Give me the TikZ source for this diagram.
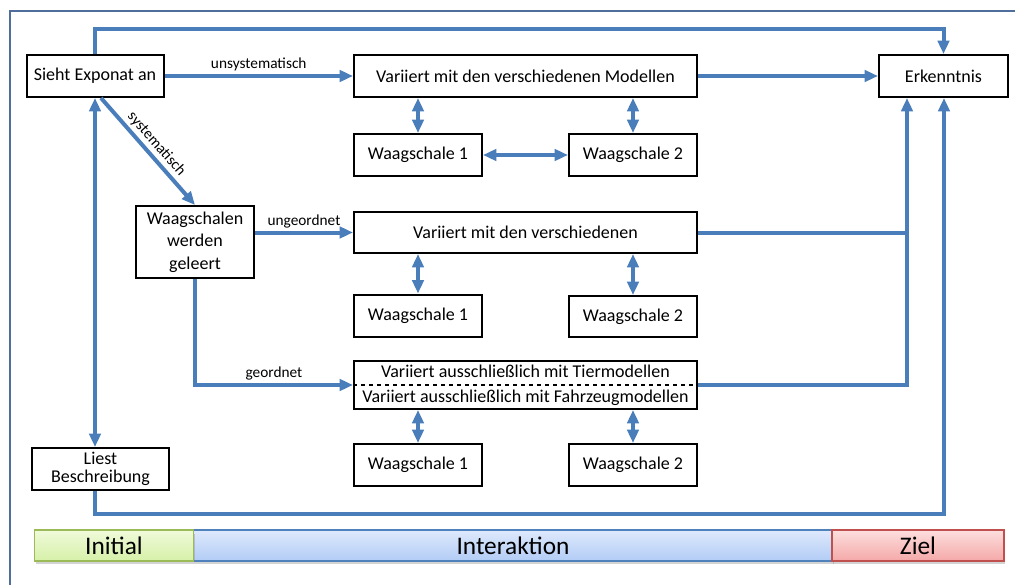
\documentclass[tikz,border=0pt]{standalone}
\usepackage{fontspec}
\setmainfont{Carlito}
\usetikzlibrary{arrows.meta,calc,shadows}
\definecolor{blu}{HTML}{4A7EBB}
\definecolor{cornice}{HTML}{4F6E9C}
\definecolor{verdebordo}{HTML}{9BBB59}
\definecolor{blubordo}{HTML}{4F81BD}
\definecolor{rossobordo}{HTML}{C0504D}
\tikzset{
>={Triangle[length=10pt,width=8.5pt]},
box/.style={draw,line width=1.5pt,minimum height=31.5pt,inner sep=1pt,align=center,font=\fontsize{13.5}{17}\selectfont},
freccia/.style={->,draw=blu,line width=3pt},
doppia/.style={<->,draw=blu,line width=3pt},
linea/.style={draw=blu,line width=3pt},
etichetta/.style={font=\fontsize{11.5}{13}\selectfont,inner sep=2pt},
fase/.style={draw,line width=1.2pt,minimum height=23pt,font=\fontsize{19}{22}\selectfont,drop shadow={opacity=0.35,shadow xshift=1pt,shadow yshift=-2.5pt}}}

\begin{document}
\begin{tikzpicture}[x=0.75pt,y=-0.75pt]

\clip (0,0) rectangle (1015,585);
\draw[cornice,line width=1.5pt] (10,600) -- (10,11) -- (1030,11);

      \node[box,minimum width=102.75pt] (1) at (95,76) {Sieht Exponat an};
      \node[box,minimum width=257.25pt] (2) at (525.5,76) {Variiert mit den verschiedenen Modellen};
      \node[box,minimum width=96.75pt] (3) at (943.5,76) {Erkenntnis};
      \node[box,minimum width=96pt] (4) at (418,155) {Waagschale 1};
      \node[box,minimum width=96pt] (5) at (633,155) {Waagschale 2};
      \node[box,minimum width=88.5pt,minimum height=54pt] (6) at (195,242) {Waagschalen\\werden\\geleert};
      \node[box,minimum width=257.25pt,minimum height=30.75pt] (7) at (525.5,232.5) {Variiert mit den verschiedenen};
      \node[box,minimum width=96pt] (8) at (418,315.5) {Waagschale 1};
      \node[box,minimum width=96pt,minimum height=30.75pt] (9) at (633,316.5) {Waagschale 2};
      \node[box,minimum width=257.25pt,minimum height=36pt,font=\fontsize{13.5}{18.5}\selectfont] (10) at (525.5,385) {Variiert ausschließlich mit Tiermodellen\\Variiert ausschließlich mit Fahrzeugmodellen};
      \node[box,minimum width=96pt] (11) at (418,465) {Waagschale 1};
      \node[box,minimum width=96pt] (12) at (633,465) {Waagschale 2};
      \node[box,minimum width=102.75pt,font=\fontsize{13.5}{13}\selectfont] (13) at (100.5,469) {Liest\\Beschreibung};

      \draw[dashed,line width=1pt] (10.west) -- (10.east);

      \coordinate (e1) at ($(3.south west)+(29,0)$);
      \coordinate (e2) at ($(3.south west)+(66,0)$);

      \draw[freccia] (1.east) -- node[etichetta,above] {unsystematisch} (2.west);
      \draw[freccia] (2.east) -- (3.west);
      \draw[freccia] ($(1.south)+(6,0)$) -- node[etichetta,sloped,above] {systematisch} (6.north);
      \draw[freccia] (6.east |- 7.west) -- node[etichetta,above] {ungeordnet} (7.west);
      \draw[freccia] (6.south) |- node[etichetta,above,pos=0.75] {geordnet} (10.west);

      \draw[freccia] (1.north) -- ++(0,-25) -| (3.north);
      \draw[freccia] (10.east) -| (e1);
      \draw[linea] (7.east) -- (7.east -| e1);
      \draw[freccia] (13.south -| 1.south) -- ++(0,23) -| (e2);

      \draw[doppia] (4.north) -- (4.north |- 2.south);
      \draw[doppia] (5.north) -- (5.north |- 2.south);
      \draw[doppia] (4.east) -- (5.west);
      \draw[doppia] (8.north) -- (8.north |- 7.south);
      \draw[doppia] (9.north) -- (9.north |- 7.south);
      \draw[doppia] (11.north) -- (11.north |- 10.south);
      \draw[doppia] (12.north) -- (12.north |- 10.south);
      \draw[doppia] (1.south) -- (1.south |- 13.north);

      % Phasen
      \node[fase,draw=blubordo,top color={rgb,255:red,222;green,233;blue,252},bottom color={rgb,255:red,178;green,204;blue,245},minimum width=479.25pt] (b) at (513,545.5) {Interaktion};
      \node[fase,draw=verdebordo,top color={rgb,255:red,240;green,250;blue,218},bottom color={rgb,255:red,214;green,240;blue,168},minimum width=119.25pt] (a) at (114,545.5) {Initial};
      \node[fase,draw=rossobordo,top color={rgb,255:red,253;green,222;blue,222},bottom color={rgb,255:red,245;green,168;blue,168},minimum width=129pt] (c) at (918,545.5) {Ziel};
\end{tikzpicture}
\end{document}
